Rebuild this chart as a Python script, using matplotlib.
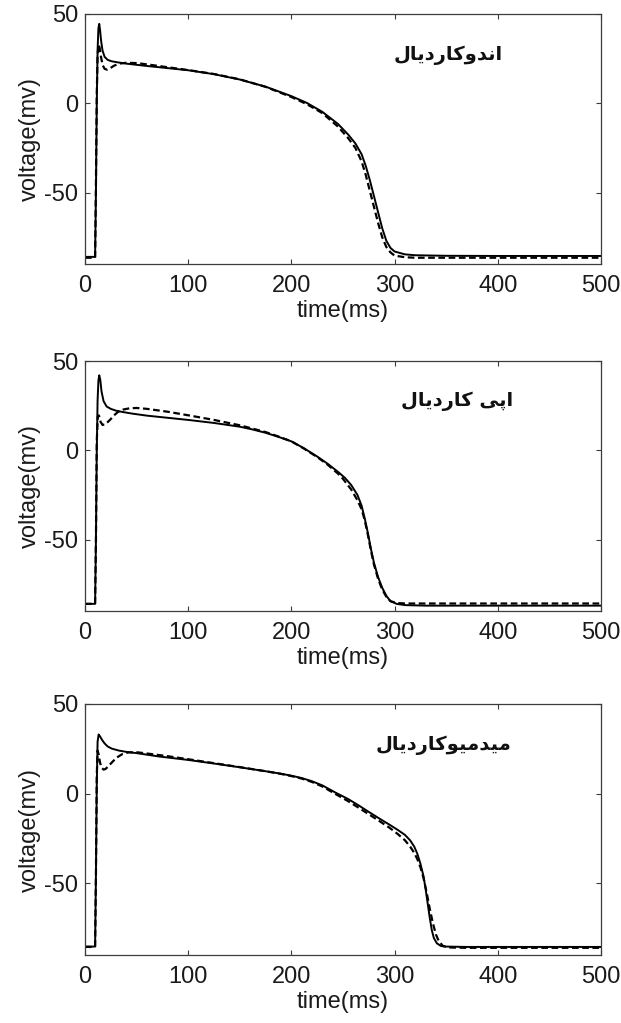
import matplotlib
matplotlib.use("Agg")
import matplotlib.pyplot as plt

# ---------------------------------------------------------------
# Action potentials (time in ms, voltage in mV)
# solid = model output, dashed = reference trace
# ---------------------------------------------------------------
endo_t_solid = [0, 9.8, 10.6, 11.4, 12.2, 13.0, 13.8, 14.6, 15.6, 17, 19, 22, 26, 32, 40, 60, 80,
                100, 125, 150, 175, 200, 215, 230, 245, 255, 262, 268, 272, 276, 280, 284, 288,
                292, 296, 300, 310, 320, 350, 400, 450, 500]
endo_v_solid = [-86, -86, -50, 0, 30, 42, 44.5, 41, 35, 29.5, 26, 24.3, 23.5, 22.9, 22.2, 20.9, 19.7,
                18.5, 16.3, 13.3, 9.3, 4.0, 0.2, -4.8, -11.5, -17.5, -22.5, -28.5, -35, -43, -52, -61, -70,
                -77, -81, -83, -84.6, -85.1, -85.4, -85.5, -85.5, -85.5]
endo_t_dashed = [0, 9.8, 10.6, 11.4, 12.2, 13.2, 14.2, 15.5, 17, 19, 21.5, 24, 28, 33, 40, 50, 60, 80,
                 100, 125, 150, 175, 200, 215, 230, 245, 255, 262, 268, 272, 276, 280, 284, 288, 292,
                 296, 300, 310, 320, 400, 500]
endo_v_dashed = [-86.5, -86.5, -45, 5, 27, 33, 31, 26, 21.5, 19.3, 18.8, 19.5, 21, 22.2, 22.7, 22.5, 21.8,
                 20.2, 18.6, 16.4, 13.4, 9.2, 3.5, -0.5, -5.5, -13, -19.5, -25, -32.5, -40, -49, -58, -67,
                 -75, -80.5, -83.5, -85.3, -86.2, -86.5, -86.5, -86.5]

epi_t_solid = [0, 9.8, 10.6, 11.4, 12.2, 13.0, 13.8, 14.8, 16, 18, 21, 25, 30, 36, 45, 60, 80, 100,
               125, 150, 162, 175, 187, 200, 212, 225, 235, 245, 252, 258, 264, 268, 271, 274, 277,
               280, 284, 288, 292, 296, 302, 310, 330, 400, 500]
epi_v_solid = [-86, -86, -50, 0, 28, 39, 42, 39.5, 33, 27.5, 24.5, 23.2, 22.2, 21.5, 20.6, 19.4, 18.2,
               17.0, 15.3, 13.2, 11.7, 9.8, 7.6, 5.0, 1.2, -3.5, -7.5, -12, -15.5, -19.5, -25, -31, -38,
               -46, -55, -63, -71, -77, -81.5, -84.5, -86, -86.7, -87, -87, -87]
epi_t_dashed = [0, 9.8, 10.6, 11.4, 12.4, 13.5, 15, 17, 19.5, 22, 25, 28, 32, 37, 43, 50, 60, 80, 100,
                125, 150, 162, 175, 187, 200, 212, 225, 235, 245, 250, 258, 264, 268, 271, 274, 277,
                280, 284, 288, 292, 296, 302, 310, 330, 400, 500]
epi_v_dashed = [-86, -86, -50, 5, 19, 19.5, 16, 14.2, 14.5, 15.8, 17.5, 19.5, 21.5, 22.8, 23.5, 23.7,
                23.2, 21.6, 19.6, 17.0, 14.0, 12.2, 10.2, 7.8, 5.0, 1.0, -3.8, -8, -13, -16, -22, -28,
                -33, -39, -47, -56, -64, -72, -78, -82, -84.5, -85.5, -85.8, -85.8, -85.8, -85.8]

mid_t_solid = [0, 9.8, 10.6, 11.4, 12.2, 13.2, 14.5, 16.5, 19, 22, 26, 33, 40, 50, 72, 100, 125, 150,
               175, 190, 200, 210, 220, 230, 243, 255, 265, 275, 285, 295, 303, 310, 315, 319, 322,
               325, 328, 330, 332, 334, 336, 338, 341, 345, 350, 370, 400, 500]
mid_v_solid = [-85.3, -85.3, -45, 5, 29, 33, 32, 30, 28, 26.3, 25.1, 24, 23.3, 22.6, 20.7, 18.8, 16.8,
               14.7, 12.5, 11.1, 10.0, 8.7, 6.9, 4.6, 0.5, -3.0, -6.5, -10.2, -13.8, -17.3, -20.2, -23,
               -26, -29.5, -33.5, -39, -46, -53, -61, -69, -76, -80.5, -83.5, -85, -85.3, -85.5, -85.5,
               -85.5]
mid_t_dashed = [0, 9.8, 10.6, 11.4, 12.2, 13.2, 14.5, 16, 18, 20, 23, 27, 31, 36, 42, 50, 60, 80, 100,
                125, 150, 175, 190, 200, 210, 220, 230, 243, 255, 265, 275, 285, 295, 303, 310, 315,
                319, 322, 325, 328, 331, 334, 337, 340, 343, 347, 352, 370, 400, 500]
mid_v_dashed = [-85.5, -85.5, -45, 10, 24, 22, 17.5, 14.5, 13.4, 13.8, 15.5, 18, 20.2, 22, 23, 23.1,
                22.4, 20.9, 19.2, 17.0, 14.8, 12.5, 11.0, 9.8, 8.4, 6.5, 4.0, -0.3, -4.2, -7.8, -11.5,
                -15.2, -19.0, -22.5, -26, -29.5, -33, -36.5, -41, -47, -55, -64, -72, -78.5, -82.5, -85,
                -85.8, -86, -86, -86]

panel_titles = ["اندوکاردیال", "اپی کاردیال", "میدمیوکاردیال"]
title_pos = [(352, 27), (361, 27.5), (347, 27)]

x_ticks = [0, 100, 200, 300, 400, 500]
y_ticks = [-50, 0, 50]
x_label = "time(ms)"
y_label = "voltage(mv)"

# ---------------------------------------------------------------
# Minimal Persian shaping: contextual forms + right-to-left order
# (isolated, final, initial, medial)
# ---------------------------------------------------------------
FORMS = {
    "ا": ("\uFE8D", "\uFE8E", None, None),
    "د": ("\uFEA9", "\uFEAA", None, None),
    "ر": ("\uFEAD", "\uFEAE", None, None),
    "و": ("\uFEED", "\uFEEE", None, None),
    "ن": ("\uFEE5", "\uFEE6", "\uFEE7", "\uFEE8"),
    "م": ("\uFEE1", "\uFEE2", "\uFEE3", "\uFEE4"),
    "ل": ("\uFEDD", "\uFEDE", "\uFEDF", "\uFEE0"),
    "ک": ("\uFB8E", "\uFB8F", "\uFB90", "\uFB91"),
    "پ": ("\uFB56", "\uFB57", "\uFB58", "\uFB59"),
    "ی": ("\uFBFC", "\uFBFD", "\uFBFE", "\uFBFF"),
}


def shape_rtl(text):
    out = []
    n = len(text)
    for i, ch in enumerate(text):
        if ch not in FORMS:
            out.append(ch)
            continue
        iso, fin, ini, med = FORMS[ch]
        prev = text[i - 1] if i > 0 else None
        nxt = text[i + 1] if i < n - 1 else None
        joins_prev = prev in FORMS and FORMS[prev][2] is not None
        joins_next = ini is not None and nxt in FORMS
        if joins_prev and joins_next:
            out.append(med)
        elif joins_prev:
            out.append(fin)
        elif joins_next:
            out.append(ini)
        else:
            out.append(iso)
    return "".join(reversed(out))


plt.rcParams["font.family"] = ["Liberation Sans Narrow", "Liberation Sans", "DejaVu Sans"]
plt.rcParams["axes.unicode_minus"] = False

fig = plt.figure(figsize=(6.21, 10.23), dpi=100)

W, H = 621.0, 1023.0
left, right = 85 / W, 601 / W
panel_px = [(14, 264), (361, 611), (704, 955)]

curves = [
    (endo_t_solid, endo_v_solid, endo_t_dashed, endo_v_dashed),
    (epi_t_solid, epi_v_solid, epi_t_dashed, epi_v_dashed),
    (mid_t_solid, mid_v_solid, mid_t_dashed, mid_v_dashed),
]

axis_color = "#3c3c3c"

for k, (top_px, bot_px) in enumerate(panel_px):
    ax = fig.add_axes([left, 1 - bot_px / H, right - left, (bot_px - top_px) / H])
    ts, vs, td, vd = curves[k]
    ax.plot(ts, vs, color="black", lw=1.4, solid_joinstyle="round")
    ax.plot(td, vd, color="black", lw=1.6, linestyle=(0, (3.0, 1.6)))

    ax.set_xlim(0, 500)
    ax.set_ylim(-90, 50)
    ax.set_xticks(x_ticks)
    ax.set_yticks(y_ticks)
    ax.tick_params(axis="both", direction="in", length=3.5, width=0.8, top=True, right=True,
                   colors=axis_color, labelcolor="#1a1a1a", labelsize=17)
    ax.tick_params(axis="x", pad=8)
    ax.tick_params(axis="y", pad=5)
    for sp in ax.spines.values():
        sp.set_color(axis_color)
        sp.set_linewidth(0.9)

    ax.set_xlabel(x_label, fontsize=17, color="#1a1a1a", labelpad=2)
    ax.set_ylabel(y_label, fontsize=17, color="#1a1a1a", labelpad=2)

    tx, ty = title_pos[k]
    ax.text(tx, ty, shape_rtl(panel_titles[k]), ha="center", va="center",
            fontsize=14, fontweight="bold", family=["DejaVu Sans"], color="#111111")

fig.savefig("out.png", dpi=100)
